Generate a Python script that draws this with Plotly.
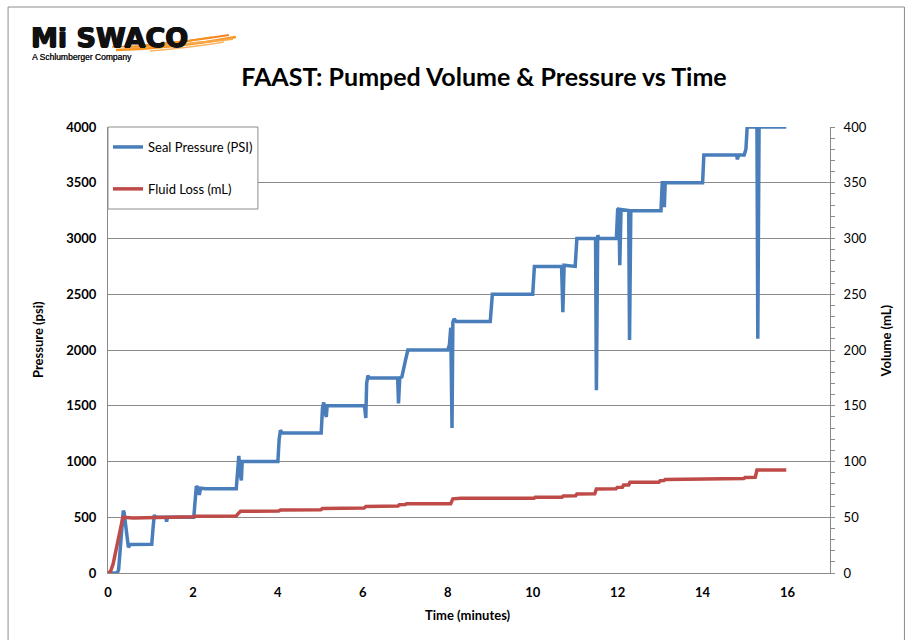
import plotly.graph_objects as go

# ---- Seal pressure (psi) vs time (minutes) ----
seal_time = [0, 0.22, 0.25, 0.3, 0.34, 0.36, 0.38, 0.42, 0.46, 0.48, 0.52, 1.03, 1.06, 1.09, 1.12,
             1.36, 1.38, 1.40, 2.02, 2.05, 2.08, 2.12, 2.15, 2.18, 2.3, 3.02, 3.05, 3.08, 3.11, 3.14,
             3.16, 4.0, 4.03, 4.06, 4.1, 5.02, 5.05, 5.08, 5.11, 5.14, 5.16, 6.0, 6.04, 6.07, 6.09,
             6.12, 6.15, 6.82, 6.84, 6.87, 6.92, 7.0, 7.06, 8.0, 8.04, 8.07, 8.1, 8.12, 8.15, 8.2,
             9.0, 9.05, 10.0, 10.04, 10.68, 10.71, 10.74, 11.0, 11.04, 11.48, 11.5, 11.53, 11.56,
             11.97, 12.0, 12.03, 12.05, 12.08, 12.26, 12.28, 12.31, 13.02, 13.05, 13.08, 13.1, 13.12,
             14.0, 14.03, 14.8, 14.82, 14.85, 14.98, 15.02, 15.05, 15.28, 15.3, 15.33, 15.97]
seal_psi = [0, 0, 30, 250, 500, 560, 540, 400, 260, 230, 255, 258, 400, 520, 500,
            500, 460, 500, 500, 700, 780, 760, 700, 760, 755, 755, 950, 1050, 900, 830,
            1000, 1000, 1200, 1280, 1255, 1255, 1480, 1530, 1440, 1400, 1500, 1500, 1500, 1390, 1700,
            1770, 1750, 1750, 1520, 1750, 1760, 1900, 2000, 2000, 2050, 2200, 1300, 2250, 2280, 2255,
            2255, 2500, 2500, 2750, 2750, 2340, 2760, 2750, 3000, 3000, 1640, 3030, 3000,
            3000, 3260, 3270, 2760, 3260, 3250, 2090, 3250, 3250, 3500, 3500, 3280, 3500,
            3500, 3750, 3750, 3710, 3750, 3750, 3800, 4000, 4000, 2100, 4000, 4000]

# ---- Fluid loss (mL) vs time (minutes) ----
loss_time = [0, 0.06, 0.12, 0.2, 0.28, 0.35, 0.6, 1.05, 1.1, 2.0, 2.05, 3.02, 3.06, 3.12, 4.02,
             4.06, 5.01, 5.05, 6.03, 6.07, 6.83, 6.86, 7.0, 7.03, 8.07, 8.12, 8.3, 10.03, 10.06,
             10.69, 10.72, 11.01, 11.04, 11.46, 11.5, 11.96, 11.99, 12.11, 12.14, 12.26, 12.29,
             12.97, 13.0, 13.09, 13.12, 13.99, 14.02, 14.97, 15.0, 15.24, 15.28, 15.97]
loss_ml = [0, 1.5, 8, 22, 38, 50, 49.3, 49.5, 50, 50.5, 51, 51.2, 53, 55.4, 55.6,
           56.5, 56.7, 57.8, 58.2, 59.6, 60, 61.3, 61.5, 62, 62.2, 66.5, 67, 67, 67.9,
           68, 69.1, 69.2, 70.9, 71, 75.4, 75.5, 76.8, 76.9, 78.9, 79, 81.3,
           81.4, 82.8, 82.9, 83.9, 84, 84.6, 84.7, 85.7, 85.8, 92.3, 92.3]

x_ticks = [0, 2, 4, 6, 8, 10, 12, 14, 16]
psi_ticks = [0, 500, 1000, 1500, 2000, 2500, 3000, 3500, 4000]
ml_ticks = [0, 50, 100, 150, 200, 250, 300, 350, 400]

W, H = 907, 640
L, R, T, B = 108, 830.5, 127, 573   # plot-area edges in pixels
GRID = "#8a8a8a"
FONT = "Lato"


def px(xp):
    return (xp - L) / (R - L)


def py(yp):
    return (B - yp) / (B - T)


def pixel_path(d):
    """Convert an SVG path given in pixel coordinates to paper coordinates."""
    parts = d.split()
    out, i = [], 0
    while i < len(parts):
        tok = parts[i]
        if tok.isalpha():
            out.append(tok)
            i += 1
            continue
        out.append(f"{px(float(tok)):.5f},{py(float(parts[i + 1])):.5f}")
        i += 2
    return " ".join(out)


fig = go.Figure()
fig.add_trace(go.Scatter(x=seal_time, y=seal_psi, mode="lines", name="Seal Pressure (PSI)",
                         line=dict(color="#4a7ebb", width=3.5), legendgroup="a"))
fig.add_trace(go.Scatter(x=loss_time, y=loss_ml, mode="lines", name="Fluid Loss (mL)",
                         line=dict(color="#be4b48", width=3.5), yaxis="y2", legendgroup="b"))

shapes = []
# outer chart frame
shapes.append(dict(type="rect", xref="paper", yref="paper", x0=px(8), x1=px(905), y0=py(660), y1=py(7),
                   line=dict(color="#8c8c8c", width=1), fillcolor="rgba(0,0,0,0)", layer="below"))
# legend box
shapes.append(dict(type="rect", xref="paper", yref="paper", x0=px(108), x1=px(258), y0=py(209), y1=py(127),
                   line=dict(color="#8c8c8c", width=1), fillcolor="white", layer="above"))
# logo swoosh
swoosh = [
    ("M 116 50 Q 178 48 236 37", "#f7941d", 2.6),
    ("M 124 48 Q 182 45 233 39", "#f9a94b", 1.8),
    ("M 138 46 Q 186 42 229 35", "#f58220", 1.8),
    ("M 150 51 Q 196 47 224 42", "#fbb565", 1.5),
    ("M 112 47 Q 166 46 212 37", "#f7941d", 1.3),
]
for d, c, w in swoosh:
    shapes.append(dict(type="path", xref="paper", yref="paper", path=pixel_path(d),
                       line=dict(color=c, width=w), layer="above"))

ann_common = dict(xref="paper", yref="paper", showarrow=False, xanchor="center", yanchor="middle")
annotations = [
    dict(text="<b>Mi SWACO</b>", x=px(29), y=py(37), xref="paper", yref="paper", xanchor="left",
         yanchor="middle", showarrow=False,
         font=dict(family="DejaVu Sans", size=27, color="#111111",
                   shadow="0.7px 0 0 #111, -0.7px 0 0 #111, 0 0.6px 0 #111")),
    dict(text="A Schlumberger Company", x=px(30), y=py(57), xref="paper", yref="paper", xanchor="left",
         yanchor="middle", showarrow=False,
         font=dict(family="Liberation Sans", size=8.5, color="#111111", shadow="0.3px 0 0 #111")),
    dict(text="<b>Pressure (psi)</b>", x=px(38), y=py(340), textangle=-90,
         font=dict(family=FONT, size=13, color="black"), **ann_common),
    dict(text="<b>Volume (mL)</b>", x=px(887), y=py(341), textangle=-90,
         font=dict(family=FONT, size=13, color="black"), **ann_common),
    dict(text="<b>Time (minutes)</b>", x=px(468), y=py(615),
         font=dict(family=FONT, size=13, color="black"), **ann_common),
]

fig.update_layout(
    width=W, height=H,
    margin=dict(l=L, r=W - R, t=T, b=H - B, pad=0),
    paper_bgcolor="white", plot_bgcolor="white",
    title=dict(text="<b>FAAST: Pumped Volume & Pressure vs Time</b>", x=484 / W, xref="container",
               xanchor="center", y=1 - 77 / H, yref="container", yanchor="middle",
               font=dict(family=FONT, size=25, color="black")),
    xaxis=dict(range=[0, 17], tickvals=x_ticks, showgrid=False, showline=True, linecolor=GRID,
               linewidth=1, ticks="", zeroline=False, ticklabelstandoff=7,
               tickfont=dict(family=FONT, size=13, color="black", weight="bold")),
    yaxis=dict(range=[0, 4000], tickvals=psi_ticks, showgrid=True, gridcolor=GRID, gridwidth=1,
               showline=True, linecolor=GRID, linewidth=1, ticks="", zeroline=False,
               ticklabelstandoff=8,
               tickfont=dict(family=FONT, size=13, color="black", weight="bold")),
    yaxis2=dict(range=[0, 400], tickvals=ml_ticks, overlaying="y", side="right", anchor="x",
                showgrid=False, showline=True, linecolor=GRID, linewidth=1, zeroline=False,
                ticks="outside", ticklen=4, tickcolor=GRID, tickwidth=1,
                minor=dict(ticks="outside", dtick=10, ticklen=4, tickcolor=GRID, tickwidth=1),
                ticklabelstandoff=6,
                tickfont=dict(family=FONT, size=13, color="black")),
    yaxis3=dict(range=[0, 400], tickvals=ml_ticks, overlaying="y", side="right", anchor="x",
                showgrid=False, showline=False, zeroline=False, showticklabels=False,
                ticks="inside", ticklen=4, tickcolor=GRID, tickwidth=1,
                minor=dict(ticks="inside", dtick=10, ticklen=4, tickcolor=GRID, tickwidth=1)),
    showlegend=True,
    legend=dict(x=0, xanchor="left", y=py(132), yanchor="top", bgcolor="rgba(0,0,0,0)",
                borderwidth=0, traceorder="grouped", tracegroupgap=22,
                font=dict(family=FONT, size=13, color="black")),
    shapes=shapes,
    annotations=annotations,
)

fig.write_html("out.html")
